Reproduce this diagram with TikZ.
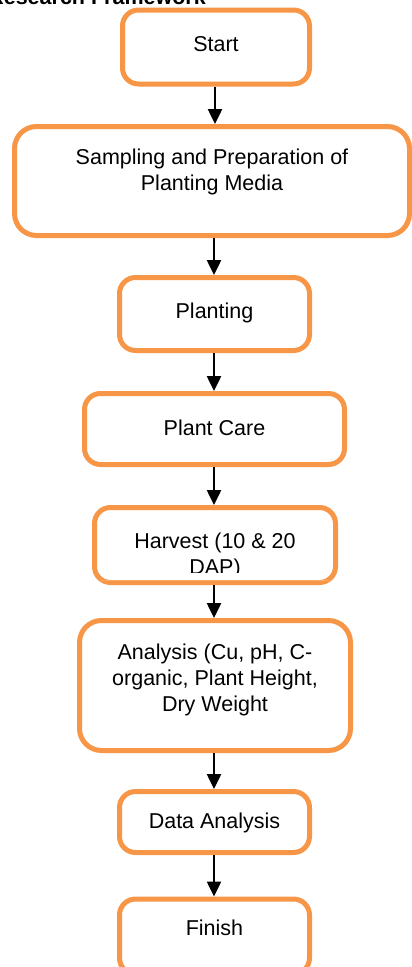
\documentclass[tikz,border=0pt]{standalone}
\usepackage{fontspec}
\setmainfont{Liberation Sans}
\usetikzlibrary{arrows.meta}
\definecolor{boxorange}{HTML}{F79646}
\tikzset{
  box/.style={draw=boxorange, line width=5pt, rounded corners=16pt, fill=white, inner sep=0pt},
  bigbox/.style={box, rounded corners=22pt},
  txt/.style={font=\fontsize{21.5}{26}\selectfont, align=center, inner sep=0pt},
  arr/.style={line width=2.5pt, -{Triangle[width=14pt,length=15pt]}},
}
\begin{document}
\begin{tikzpicture}[x=1pt,y=-1pt]
\useasboundingbox (0,0) rectangle (412,967);
% title (cut off at top)
\node[font=\bfseries\fontsize{21.5}{26}\selectfont, anchor=base east, inner sep=0pt] (title) at (206,4) {Research Framework};
% boxes
\node[box, minimum width=187pt, minimum height=74pt] (start) at (216,47) {};
\node[txt] (tstart) at (216,44) {Start};
\node[bigbox, minimum width=395pt, minimum height=109pt] (samp) at (212,181) {};
\node[txt] (tsamp) at (212,172) {Sampling and Preparation of\\Planting Media};
\node[box, minimum width=190pt, minimum height=73pt] (plant) at (214.5,314) {};
\node[txt] (tplant) at (214.5,313) {Planting};
\node[box, minimum width=260pt, minimum height=71pt] (care) at (214.5,429) {};
\node[txt] (tcare) at (214.5,428) {Plant Care};
\node[box, minimum width=241pt, minimum height=75pt] (harv) at (215,545) {};
\begin{scope}
  \clip (100,510) rectangle (330,572);
  \node[txt] (tharv) at (215,556) {Harvest (10 \& 20\\DAP)};
\end{scope}
\coordinate (hl) at (100,580);
\coordinate (hr) at (330,580);
\draw[boxorange!80, line width=1pt] (hl) -- (hr);
\node[bigbox, minimum width=271pt, minimum height=130pt] (anal) at (215,685.5) {};
\node[txt] (tanal) at (215,680) {Analysis (Cu, pH, C-\\organic, Plant Height,\\Dry Weight};
\node[box, minimum width=190pt, minimum height=61pt] (data) at (214.5,822) {};
\node[txt] (tdata) at (214.5,823) {Data Analysis};
\node[box, minimum width=190pt, minimum height=75pt, anchor=north] (fin) at (214.5,896.5) {};
\node[txt] (tfin) at (214.5,928) {Finish};
% arrows
\coordinate (ax) at (215,0);
\coordinate (bx) at (214,0);
\draw[arr] (start.south -| ax) -- (samp.north -| ax);
\draw[arr] (samp.south -| bx) -- (plant.north -| bx);
\draw[arr] (plant.south -| bx) -- (care.north -| bx);
\draw[arr] (care.south -| bx) -- (harv.north -| bx);
\draw[arr] (harv.south -| bx) -- (anal.north -| bx);
\draw[arr] (anal.south -| bx) -- (data.north -| bx);
\draw[arr] (data.south -| bx) -- (fin.north -| bx);
\end{tikzpicture}
\end{document}
